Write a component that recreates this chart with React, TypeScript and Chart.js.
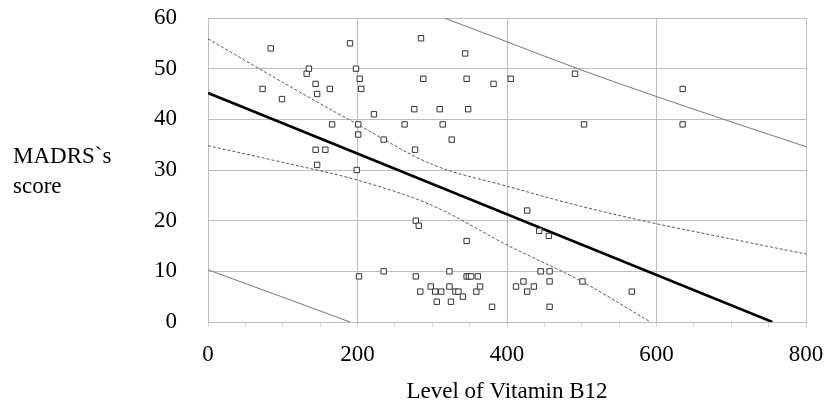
import React, { useEffect, useRef } from "react";
import { Chart, registerables } from "chart.js";

Chart.register(...registerables);

// Scatter observations
const b12Levels = [
  73, 84, 99, 132, 135, 144, 146, 163, 166, 144, 157, 146, 190, 198, 203, 205, 201, 201, 199, 222,
  235, 263, 276, 277, 285, 288, 310, 314, 326, 344, 346, 348, 382, 405, 491, 503, 635, 635,
  278, 282, 346, 427, 443, 456,
  202, 235, 278, 323, 346, 349, 352, 361, 298, 284, 304, 312, 323, 331, 335, 341, 359, 364, 306,
  325, 380, 412, 422, 427, 436, 445, 457, 457, 457, 501, 567,
];
const madrsScores = [
  46, 54, 44, 49, 50, 47, 45, 46, 39, 34, 34, 31, 55, 50, 48, 46, 39, 37, 30, 41,
  36, 39, 42, 34, 56, 48, 42, 39, 36, 53, 48, 42, 47, 48, 49, 39, 46, 39,
  20, 19, 16, 22, 18, 17,
  9, 10, 9, 10, 9, 9, 9, 9, 7, 6, 6, 6, 7, 6, 6, 5, 6, 7, 4,
  4, 3, 7, 8, 6, 7, 10, 10, 8, 3, 8, 6,
];

// Fitted regression line
const regressionX = [0, 755];
const regressionY = [45.2, 0];

// Confidence band
const upperConfX = [0, 100, 200, 300, 400, 500, 600, 700, 800];
const upperConfY = [55.9, 47.3, 39.0, 31.1, 26.8, 22.8, 19.4, 16.4, 13.4];
const lowerConfX = [0, 100, 200, 300, 400, 500, 592];
const lowerConfY = [34.8, 31.5, 28.0, 23.0, 15.2, 8.0, 0];

// Prediction band
const upperPredX = [316, 400, 500, 600, 700, 800];
const upperPredY = [60, 55.3, 49.7, 44.5, 39.5, 34.6];
const lowerPredX = [0, 100, 190];
const lowerPredY = [10.3, 4.9, 0];

const xTicks = [0, 200, 400, 600, 800];
const yTicks = [0, 10, 20, 30, 40, 50, 60];

const xTitle = "Level of Vitamin B12";
const yTitleLines = ["MADRS`s", "score"];

const FONT = '"Liberation Serif", "Times New Roman", serif';
const GRID = "#bdbdbd";

const zip = (xs: number[], ys: number[]) => xs.map((x, i) => ({ x, y: ys[i] }));

const yTitlePlugin = {
  id: "yTitle",
  afterDraw(chart: any) {
    const ctx = chart.ctx;
    ctx.save();
    ctx.font = `23px ${FONT}`;
    ctx.fillStyle = "#000";
    ctx.textAlign = "left";
    ctx.textBaseline = "alphabetic";
    ctx.fillText(yTitleLines[0], 13, 163);
    ctx.fillText(yTitleLines[1], 13, 193);
    ctx.restore();
  },
};

export default function App() {
  const ref = useRef<HTMLCanvasElement | null>(null);

  useEffect(() => {
    if (!ref.current) return;
    const lineBase = {
      showLine: true,
      pointRadius: 0,
      pointHoverRadius: 0,
      fill: false,
      cubicInterpolationMode: "monotone" as const,
    };
    const chart = new Chart(ref.current, {
      type: "scatter",
      data: {
        datasets: [
          {
            data: zip(b12Levels, madrsScores),
            pointStyle: "rect",
            pointRadius: 3.8,
            pointBorderWidth: 1,
            pointBorderColor: "#333",
            pointBackgroundColor: "#fff",
            showLine: false,
          } as any,
          {
            ...lineBase,
            data: zip(regressionX, regressionY),
            borderColor: "#000",
            borderWidth: 2.6,
          },
          {
            ...lineBase,
            data: zip(upperConfX, upperConfY),
            borderColor: "#555",
            borderWidth: 1,
            borderDash: [3, 2],
          },
          {
            ...lineBase,
            data: zip(lowerConfX, lowerConfY),
            borderColor: "#555",
            borderWidth: 1,
            borderDash: [3, 2],
          },
          {
            ...lineBase,
            data: zip(upperPredX, upperPredY),
            borderColor: "#777",
            borderWidth: 1,
          },
          {
            ...lineBase,
            data: zip(lowerPredX, lowerPredY),
            borderColor: "#777",
            borderWidth: 1,
          },
        ],
      },
      options: {
        responsive: false,
        animation: false,
        events: [],
        layout: { padding: { top: 18, right: 20, left: 0, bottom: 0 } },
        plugins: {
          legend: { display: false },
          tooltip: { enabled: false },
        },
        scales: {
          x: {
            type: "linear",
            min: 0,
            max: 800,
            afterFit: (s: any) => {
              s.height = 84;
            },
            afterBuildTicks: (s: any) => {
              const t: any[] = [];
              for (let v = 0; v <= 800; v += 50) t.push({ value: v });
              s.ticks = t;
            },
            border: { display: true, color: GRID, width: 1 },
            grid: {
              color: (c: any) => (c.tick && xTicks.includes(c.tick.value) ? GRID : "rgba(0,0,0,0)"),
              tickColor: "#d8d8d8",
              tickLength: 5,
              drawTicks: true,
            },
            ticks: {
              autoSkip: false,
              maxRotation: 0,
              padding: 2,
              color: "#000",
              font: { family: FONT, size: 23, lineHeight: 2.26 },
              callback: (v: any) => (xTicks.includes(Number(v)) ? String(v) : ""),
            },
            title: {
              display: true,
              text: xTitle,
              color: "#000",
              font: { family: FONT, size: 23 },
              padding: { top: 0, bottom: 0 },
            },
          },
          y: {
            type: "linear",
            min: 0,
            max: 60,
            afterFit: (s: any) => {
              s.width = 208;
            },
            afterBuildTicks: (s: any) => {
              s.ticks = yTicks.map((v) => ({ value: v }));
            },
            border: { display: true, color: GRID, width: 1 },
            grid: { color: GRID, drawTicks: true, tickLength: 28, tickColor: "rgba(0,0,0,0)" },
            ticks: {
              padding: 3,
              color: "#000",
              font: { family: FONT, size: 23 },
            },
          },
        },
      },
      plugins: [yTitlePlugin],
    });
    return () => chart.destroy();
  }, []);

  return (
    <div style={{ position: "absolute", left: 0, top: 0, width: 826, height: 406, background: "#fff" }}>
      <canvas ref={ref} width={826} height={406} style={{ display: "block" }} />
    </div>
  );
}
